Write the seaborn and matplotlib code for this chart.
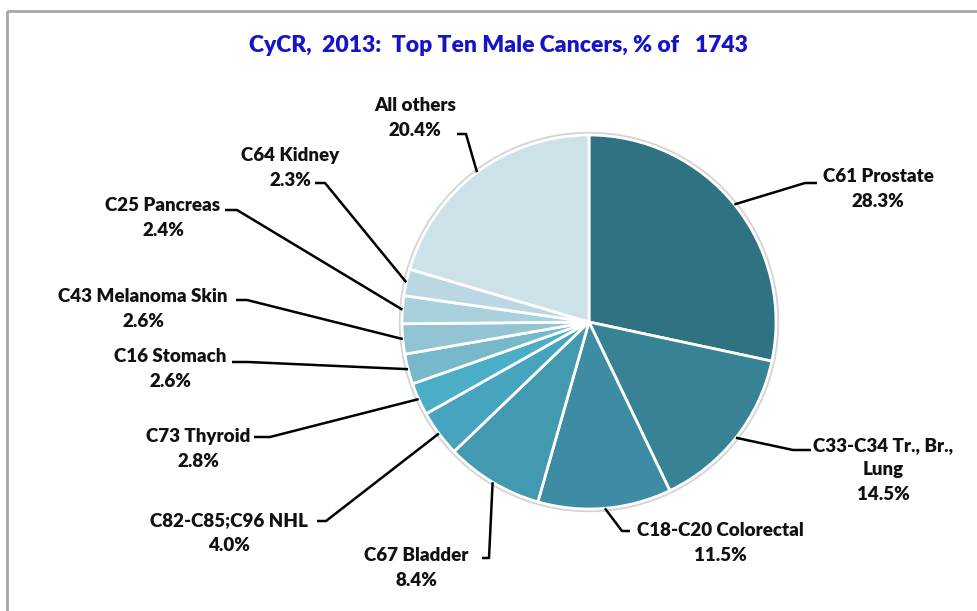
import numpy as np
import matplotlib
matplotlib.use("Agg")
import matplotlib.pyplot as plt
import seaborn as sns

# Dados (CyCR 2013, homens)
labels = ["C61 Prostate", "C33-C34 Tr., Br.,\nLung", "C18-C20 Colorectal", "C67 Bladder",
          "C82-C85;C96 NHL", "C73 Thyroid", "C16 Stomach", "C43 Melanoma Skin",
          "C25 Pancreas", "C64 Kidney", "All others"]
shares = [28.3, 14.5, 11.5, 8.4, 4.0, 2.8, 2.6, 2.6, 2.4, 2.3, 20.4]
colors = ["#2F7282", "#378295", "#3D8CA3", "#4399AF", "#46A4BE", "#4AAEC6",
          "#77B8CB", "#93C4D4", "#A8D0DD", "#BBD8E2", "#CDE1E8"]
title = "CyCR,  2013:  Top Ten Male Cancers, % of   1743"

# layout em pixels (x, y) - centro do texto, cotovelo e fim da linha
text_pos = [(878, 189), (883, 470), (720, 543), (416, 568), (229, 533), (198, 449),
            (170, 369), (143, 309), (163, 218), (290, 168), (415, 118)]
elbows = [(805, 183), (793, 450), (622, 531), (489, 558), (326, 521), (270, 437),
          (248, 362), (247, 300), (237, 210), (325, 183), (466, 134)]
stubs = [(817, 183), (811, 450), (630, 531), (482, 558), (317, 521), (254, 437),
         (232, 362), (236, 300), (225, 210), (315, 183), (457, 134)]

W, H = 977, 611
center = (589, 322)
radius = 187

sns.set_theme(style="white")
plt.rcParams['font.family'] = ['Lato', 'DejaVu Sans']

fig = plt.figure(figsize=(W / 100, H / 100), dpi=100)
ax = fig.add_axes([0, 0, 1, 1])

# sombra leve do pie
ax.add_patch(plt.Circle(center, radius + 2.5, color="#d4d4d4", zorder=0))

wedges, _ = ax.pie(shares, colors=colors, center=center, radius=radius,
                   startangle=-90, counterclock=True,
                   wedgeprops=dict(edgecolor="white", linewidth=2))

ax.set_xlim(0, W)
ax.set_ylim(H, 0)
ax.set_aspect("equal")
ax.axis("off")

for w, lab, val, tp, el, st in zip(wedges, labels, shares, text_pos, elbows, stubs):
    ang = np.deg2rad((w.theta1 + w.theta2) / 2)
    ex = center[0] + radius * np.cos(ang)
    ey = center[1] + radius * np.sin(ang)
    ax.plot([ex, el[0], st[0]], [ey, el[1], st[1]], color="black", lw=1.8,
            solid_capstyle="butt", zorder=5)
    ax.text(tp[0], tp[1], f"{lab}\n{val:.1f}%", ha="center", va="center",
            multialignment="center", fontsize=13.5, fontweight="heavy",
            color="#111111", linespacing=1.55)

ax.text(498, 45, title, ha="center", va="center", fontsize=16.5,
        fontweight="heavy", color="#1414C8")

# moldura cinza
ax.add_patch(plt.Rectangle((7, 11), W + 20, H + 20, fill=False,
                           edgecolor="#A6A6A6", lw=2, zorder=10))

fig.savefig("out.png", dpi=100)
